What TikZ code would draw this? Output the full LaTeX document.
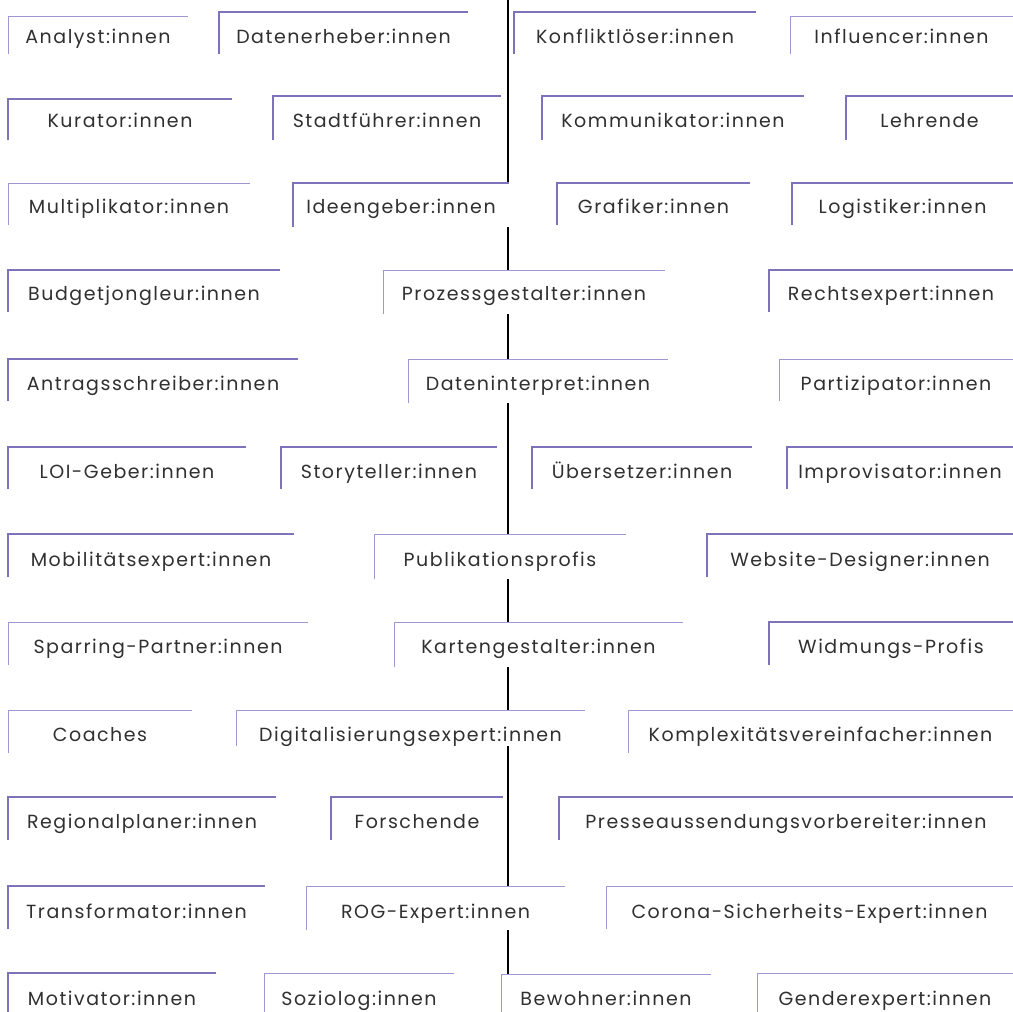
\documentclass[tikz,border=0pt]{standalone}
\usepackage{fontspec}
\setmainfont{Poppins}[LetterSpace=8]
\definecolor{txt}{RGB}{48,48,48}
\definecolor{purp}{RGB}{128,114,186}
\definecolor{purpl}{RGB}{160,150,210}
\tikzset{
  framebox/.style={anchor=north west, fill=white, draw=none, inner sep=0pt, outer sep=0pt},
  lbl/.style={anchor=base, text=txt, inner sep=0pt, font=\fontsize{19}{22}\selectfont},
  thick line/.style={draw=purp, line width=1.8pt},
  thin line/.style={draw=purpl, line width=1pt},
  mid line/.style={draw=purp, line width=1.3pt},
  axis/.style={draw=black, line width=1.1pt}
}
\newcommand{\rolebox}[8]{%
  \node[framebox, minimum width={#4-#2}, minimum height={#5-#3}] (#1) at (#2,#3) {};
  \node[lbl] (#1t) at ({(#2+#4)/2},#6) {#8};
  \draw[#7] (#1.south west) -- (#1.north west) -- (#1.north east);
}
\begin{document}
\begin{tikzpicture}[x=1pt,y=-1pt]
\useasboundingbox (0,0) rectangle (1013,1012);
\coordinate (axtop) at (508,0);
\coordinate (axbot) at (508,1012);
\draw[axis] (axtop) -- (axbot);
% row 1
\rolebox{a1}{8}{16}{188}{54}{43}{thin line}{Analyst:innen}
\rolebox{a2}{219}{12}{468}{54}{43}{thick line}{Datenerheber:innen}
\rolebox{a3}{514}{12}{756}{54}{43}{thick line}{Konfliktlöser:innen}
\rolebox{a4}{790}{16}{1013}{54}{43}{thin line}{Influencer:innen}
% row 2
\rolebox{b1}{8}{99}{232}{140}{127}{thick line}{Kurator:innen}
\rolebox{b2}{273}{96}{501}{140}{127}{thick line}{Stadtführer:innen}
\rolebox{b3}{542}{96}{804}{140}{127}{thick line}{Kommunikator:innen}
\rolebox{b4}{846}{96}{1013}{140}{127}{thick line}{Lehrende}
% row 3
\rolebox{c1}{8}{183}{250}{225}{213}{thin line}{Multiplikator:innen}
\rolebox{c2}{293}{183}{509}{227}{213}{mid line}{Ideengeber:innen}
\rolebox{c3}{557}{183}{750}{225}{213}{thick line}{Grafiker:innen}
\rolebox{c4}{792}{183}{1013}{225}{213}{thick line}{Logistiker:innen}
% row 4
\rolebox{d1}{8}{270}{280}{312}{300}{thick line}{Budgetjongleur:innen}
\rolebox{d2}{383}{270}{665}{314}{300}{thin line}{Prozessgestalter:innen}
\rolebox{d3}{769}{270}{1013}{312}{300}{thick line}{Rechtsexpert:innen}
% row 5
\rolebox{e1}{8}{359}{298}{401}{390}{thick line}{Antragsschreiber:innen}
\rolebox{e2}{408}{359}{668}{403}{390}{thin line}{Dateninterpret:innen}
\rolebox{e3}{779}{359}{1013}{401}{390}{thin line}{Partizipator:innen}
% row 6
\rolebox{f1}{8}{447}{246}{489}{478}{thick line}{LOI-Geber:innen}
\rolebox{f2}{281}{447}{497}{489}{478}{thick line}{Storyteller:innen}
\rolebox{f3}{532}{447}{752}{489}{478}{thick line}{Übersetzer:innen}
\rolebox{f4}{787}{447}{1013}{489}{478}{thick line}{Improvisator:innen}
% row 7
\rolebox{g1}{8}{534}{294}{577}{566}{thick line}{Mobilitätsexpert:innen}
\rolebox{g2}{374}{534}{626}{579}{566}{thin line}{Publikationsprofis}
\rolebox{g3}{707}{534}{1013}{577}{566}{thick line}{Website-Designer:innen}
% row 8
\rolebox{h1}{8}{622}{308}{665}{653}{thin line}{Sparring-Partner:innen}
\rolebox{h2}{394}{622}{683}{667}{653}{thin line}{Kartengestalter:innen}
\rolebox{h3}{769}{622}{1013}{665}{653}{thick line}{Widmungs-Profis}
% row 9
\rolebox{i1}{8}{710}{192}{753}{741}{thin line}{Coaches}
\rolebox{i2}{236}{710}{585}{746}{741}{thin line}{Digitalisierungsexpert:innen}
\rolebox{i3}{628}{710}{1013}{753}{741}{thin line}{Komplexitätsvereinfacher:innen}
% row 10
\rolebox{j1}{8}{797}{276}{840}{828}{mid line}{Regionalplaner:innen}
\rolebox{j2}{331}{797}{503}{840}{828}{mid line}{Forschende}
\rolebox{j3}{559}{797}{1013}{840}{828}{mid line}{Presseaussendungsvorbereiter:innen}
% row 11
\rolebox{k1}{8}{886}{265}{929}{918}{mid line}{Transformator:innen}
\rolebox{k2}{306}{886}{565}{930}{918}{thin line}{ROG-Expert:innen}
\rolebox{k3}{606}{886}{1013}{929}{918}{thin line}{Corona-Sicherheits-Expert:innen}
% row 12
\rolebox{l1}{8}{973}{216}{1012}{1005}{mid line}{Motivator:innen}
\rolebox{l2}{264}{973}{454}{1012}{1005}{thin line}{Soziolog:innen}
\rolebox{l3}{501}{974}{711}{1012}{1005}{thin line}{Bewohner:innen}
\rolebox{l4}{757}{973}{1013}{1012}{1005}{thin line}{Genderexpert:innen}
\end{tikzpicture}
\end{document}
